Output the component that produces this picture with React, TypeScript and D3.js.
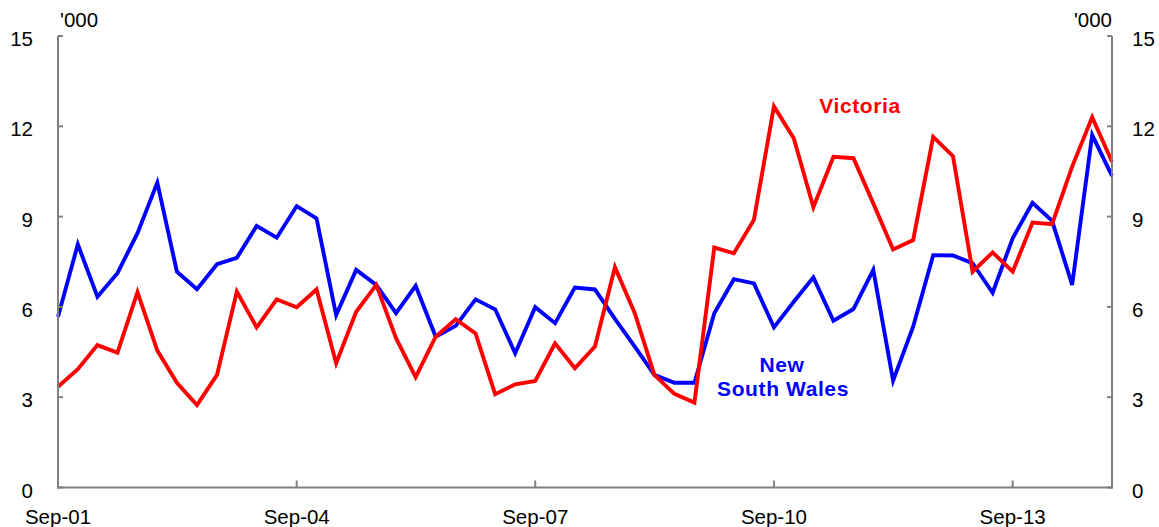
import React, { useEffect } from "react";
import * as d3 from "d3";

// quarterly, Sep-01 .. Dec-14
const START = new Date(2001, 8, 1);
const quarters = d3.range(54).map((i) => d3.timeMonth.offset(START, 3 * i));

// '000
const nsw = [
	5.67, 8.08, 6.34, 7.12, 8.45, 10.13, 7.17, 6.59, 7.42, 7.63,
	8.69, 8.3, 9.35, 8.94, 5.73, 7.23, 6.73, 5.79, 6.7, 5.01,
	5.37, 6.25, 5.92, 4.46, 5.99, 5.46, 6.64, 6.58, 5.6, 4.68,
	3.74, 3.48, 3.48, 5.79, 6.92, 6.78, 5.32, 6.17, 6.98, 5.54,
	5.93, 7.23, 3.55, 5.34, 7.72, 7.71, 7.45, 6.47, 8.28, 9.46,
	8.86, 6.73, 11.71, 10.35,
];
const vic = [
	3.35, 3.93, 4.73, 4.48, 6.49, 4.55, 3.48, 2.74, 3.74, 6.51,
	5.32, 6.25, 5.99, 6.58, 4.13, 5.84, 6.73, 4.96, 3.67, 5.01,
	5.59, 5.12, 3.1, 3.43, 3.54, 4.79, 3.96, 4.68, 7.32, 5.79,
	3.74, 3.11, 2.82, 7.97, 7.78, 8.89, 12.66, 11.6, 9.31, 10.99,
	10.94, 9.44, 7.91, 8.22, 11.65, 11.01, 7.17, 7.81, 7.17, 8.8,
	8.75, 10.66, 12.3, 10.82,
];

const xTickIdx = [0, 12, 24, 36, 48];
const yTicks = [0, 3, 6, 9, 12, 15];
const fmt = d3.timeFormat("%b-%y");

const W = 1159;
const H = 527;
const FONT = "'Liberation Sans', Arial, sans-serif";
const AXIS = "#808080";

export default function App() {
	useEffect(() => {
		document.body.style.margin = "0";
	}, []);

	const x = d3.scaleTime().domain([quarters[0], quarters[quarters.length - 1]]).range([58, 1112]);
	const y = d3.scaleLinear().domain([0, 15]).range([487.5, 36]);

	const line = d3
		.line<number>()
		.x((_, i) => x(quarters[i]))
		.y((d) => y(d));

	return (
		<svg width={W} height={H} style={{ display: "block", fontFamily: FONT }}>
			{/* series */}
			<path d={line(nsw) ?? ""} fill="none" stroke="#0000ff" strokeWidth={3.9} strokeLinejoin="miter" />
			<path d={line(vic) ?? ""} fill="none" stroke="#ff0000" strokeWidth={3.9} strokeLinejoin="miter" />

			{/* axes */}
			<g stroke={AXIS} strokeWidth={2} fill="none">
				<line x1={58} x2={58} y1={y(15)} y2={y(0) + 1} />
				<line x1={1112} x2={1112} y1={y(15)} y2={y(0) + 1} />
				<line x1={57} x2={1113} y1={y(0)} y2={y(0)} />
				{yTicks.map((t) => (
					<g key={t}>
						<line x1={58} x2={63} y1={y(t)} y2={y(t)} />
						<line x1={1107} x2={1112} y1={y(t)} y2={y(t)} />
					</g>
				))}
				{xTickIdx.map((i) => (
					<line key={i} x1={x(quarters[i])} x2={x(quarters[i])} y1={y(0)} y2={y(0) - 7} />
				))}
			</g>

			{/* tick labels */}
			<g fontSize={20.5} fill="#000">
				{yTicks.map((t) => (
					<g key={t}>
						<text x={33} y={y(t) + 2.5} textAnchor="end" dominantBaseline="central">
							{t}
						</text>
						<text x={1132} y={y(t) + 2.5} textAnchor="start" dominantBaseline="central">
							{t}
						</text>
					</g>
				))}
				{xTickIdx.map((i) => (
					<text key={i} x={x(quarters[i])} y={523.5} textAnchor="middle">
						{fmt(quarters[i])}
					</text>
				))}
				<text x={60} y={27}>'000</text>
				<text x={1112} y={27} textAnchor="end">'000</text>
			</g>

			{/* series labels */}
			<g fontSize={21} fontWeight="bold" letterSpacing={0.6} textAnchor="middle">
				<text x={860} y={113} fill="#ff0000">Victoria</text>
				<text x={782} y={372} fill="#0000ff">New</text>
				<text x={783} y={396} fill="#0000ff">South Wales</text>
			</g>
		</svg>
	);
}
